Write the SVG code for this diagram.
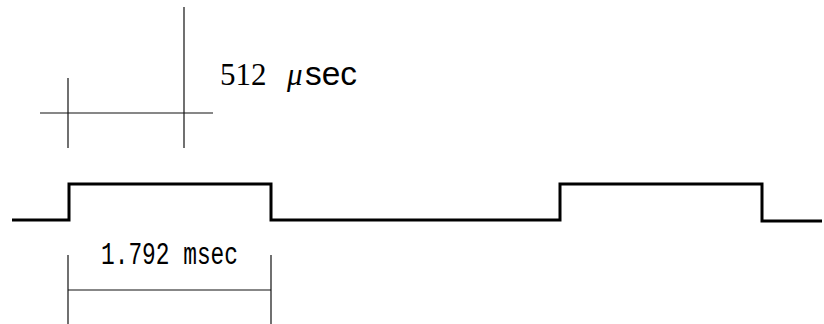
<svg xmlns="http://www.w3.org/2000/svg" width="824" height="324" viewBox="0 0 824 324">
<style>
.dim{stroke:#111;stroke-width:1.2;fill:none}
.sig{stroke:#000;stroke-width:3;fill:none;stroke-linejoin:miter}
.lbl{fill:#000}
</style>
<rect width="824" height="324" fill="#fff"/>
<g id="connectors">
<g id="dim-top">
<line class="dim" x1="40" y1="113" x2="213" y2="113"/>
<line class="dim" x1="68" y1="78" x2="68" y2="148"/>
<line class="dim" x1="184" y1="7" x2="184" y2="148"/>
</g>
<g id="dim-bottom">
<line class="dim" x1="68" y1="255" x2="68" y2="324"/>
<line class="dim" x1="271" y1="255" x2="271" y2="324"/>
<line class="dim" x1="68" y1="290" x2="271" y2="290"/>
</g>
<path id="signal" class="sig" d="M12,220 H69 V184 H271 V220 H560 V184 H762 V221 H822"/>
</g>
<g id="label-512">
<text class="lbl" x="220" y="85" font-family="Liberation Serif, serif" font-size="31">512<tspan x="287" font-style="italic">μ</tspan><tspan x="305" font-family="Liberation Sans, sans-serif" font-size="33" textLength="52" lengthAdjust="spacingAndGlyphs">sec</tspan></text>
</g>
<g id="label-1792">
<text class="lbl" x="101" y="264" font-family="Liberation Mono, monospace" font-size="31" textLength="137" lengthAdjust="spacingAndGlyphs">1.792 msec</text>
</g>
</svg>
